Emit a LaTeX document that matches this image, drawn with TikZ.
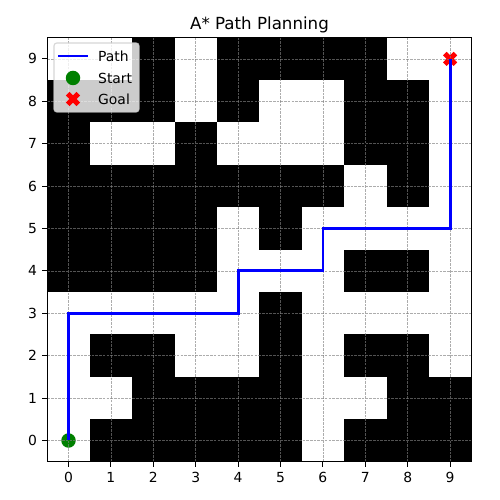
\documentclass[tikz,border=0pt]{standalone}
\usepackage{fontspec}
\setmainfont{DejaVu Sans}
\definecolor{mplblue}{RGB}{0,0,255}
\definecolor{mplgreen}{RGB}{0,128,0}
\definecolor{mplred}{RGB}{255,0,0}
\definecolor{legedge}{RGB}{204,204,204}
\begin{document}
\begin{tikzpicture}[x=1pt,y=1pt,
  gridline/.style={draw=gray, opacity=0.65, line width=0.7pt, dash pattern=on 2.6pt off 1.1pt},
  tickmark/.style={line width=1.1pt},
  ticklab/.style={font=\fontsize{13.9}{16}\selectfont, inner sep=0pt},
  pathline/.style={draw=mplblue, line width=2.8pt},
  startmark/.style={circle, fill=mplgreen, minimum size=14.5pt, inner sep=0pt},
  goalpt/.style={inner sep=0pt, minimum size=0pt},
  xmark/.style={fill=mplred, rotate=45, x=2.5pt, y=2.5pt},
  legtext/.style={font=\fontsize{13.9}{16}\selectfont, anchor=west, inner sep=0pt},
]
\useasboundingbox (0,0) rectangle (500,500);
\fill[white] (0,0) rectangle (500,500);
% title
\node[font=\fontsize{16.67}{20}\selectfont, anchor=base, inner sep=0pt] (title) at (259.5,470.6) {A* Path Planning};
\begin{scope}[shift={(68.5,59.5)}, x=42.4pt, y=42.4pt]
  % obstacles
  \foreach \cx/\cy in {2/9,4/9,5/9,6/9,7/9,
                       0/8,1/8,2/8,4/8,7/8,8/8,
                       0/7,3/7,7/7,8/7,
                       0/6,1/6,2/6,3/6,4/6,5/6,6/6,8/6,
                       0/5,1/5,2/5,3/5,5/5,
                       0/4,1/4,2/4,3/4,7/4,8/4,
                       5/3,
                       1/2,2/2,5/2,7/2,8/2,
                       2/1,3/1,4/1,5/1,8/1,9/1,
                       1/0,2/0,3/0,4/0,5/0,7/0,8/0,9/0}
    {\fill[black] (\cx-0.5,\cy-0.5) rectangle ++(1,1);}
  % markers
  \node[startmark] (start) at (0,0) {};
  \node[goalpt] (goal) at (9,9) {};
  \fill[xmark, shift={(goal.center)}] (-1,-3) -- (-1,-1) -- (-3,-1) -- (-3,1) -- (-1,1) -- (-1,3) -- (1,3) -- (1,1) -- (3,1) -- (3,-1) -- (1,-1) -- (1,-3) -- cycle;
  % grid
  \foreach \i in {0,...,9} {
    \draw[gridline] (\i,-0.5) -- (\i,9.5);
    \draw[gridline] (-0.5,\i) -- (9.5,\i);
  }
  % path
  \draw[pathline] (start.center) -- (0,3) -- (4,3) -- (4,4) -- (6,4) -- (6,5) -- (9,5) -- (goal.center);
  % frame
  \draw[line width=1.1pt] (-0.5,-0.5) rectangle (9.5,9.5);
  % ticks
  \foreach \i in {0,...,9} {
    \draw[tickmark] (\i,-0.5) -- ++(0,-4.9pt) node[ticklab, below=4.9pt] {\i};
    \draw[tickmark] (-0.5,\i) -- ++(-4.9pt,0) node[ticklab, left=4.9pt] {\i};
  }
\end{scope}
% legend
\draw[rounded corners=2.8pt, fill=white, fill opacity=0.8, draw=legedge, draw opacity=0.8, line width=1.1pt] (54,388) rectangle (139,457);
\coordinate (lpa) at (58,444);
\coordinate (lpb) at (88,444);
\draw[pathline] (lpa) -- (lpb);
\node[startmark] (lstart) at (73,422) {};
\node[goalpt] (lgoal) at (73,401) {};
\fill[xmark, shift={(lgoal.center)}] (-1,-3) -- (-1,-1) -- (-3,-1) -- (-3,1) -- (-1,1) -- (-1,3) -- (1,3) -- (1,1) -- (3,1) -- (3,-1) -- (1,-1) -- (1,-3) -- cycle;
\node[legtext] (lt1) at (98,444) {Path};
\node[legtext] (lt2) at (98,422) {Start};
\node[legtext] (lt3) at (98,401) {Goal};
\end{tikzpicture}
\end{document}
